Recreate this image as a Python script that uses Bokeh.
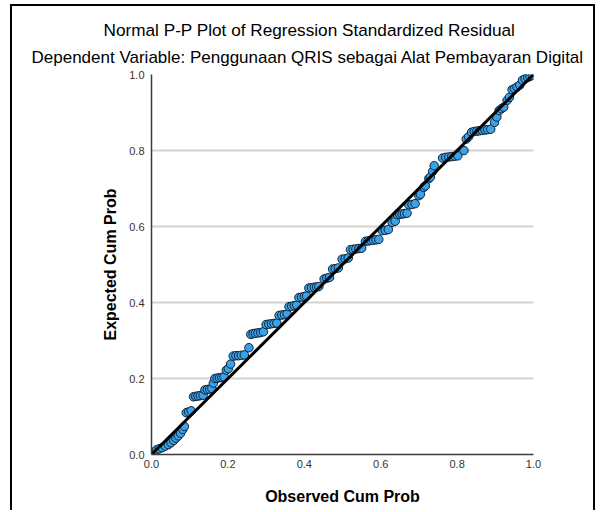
from bokeh.plotting import figure
from bokeh.models import Title, Range1d, FixedTicker, ColumnDataSource, CustomJSTickFormatter
from bokeh.embed import file_html
from bokeh.resources import INLINE

# Observed cumulative probability (x) and expected cumulative probability (y)
observed = [
    0.006, 0.013, 0.020, 0.028, 0.036, 0.044, 0.051, 0.058, 0.064, 0.070,
    0.076, 0.082, 0.086, 0.091, 0.097, 0.104, 0.110, 0.116, 0.122, 0.128,
    0.135, 0.140, 0.146, 0.152, 0.158, 0.162, 0.166, 0.172, 0.178, 0.184,
    0.190, 0.196, 0.201, 0.207, 0.214, 0.221, 0.228, 0.235, 0.243, 0.255,
    0.260, 0.266, 0.272, 0.279, 0.286, 0.293, 0.300, 0.307, 0.314, 0.321,
    0.328, 0.334, 0.341, 0.348, 0.355, 0.360, 0.367, 0.374, 0.380, 0.386,
    0.393, 0.400, 0.406, 0.412, 0.419, 0.426, 0.432, 0.438, 0.452, 0.459,
    0.466, 0.474, 0.481, 0.489, 0.499, 0.507, 0.515, 0.521, 0.528, 0.535,
    0.543, 0.550, 0.560, 0.567, 0.574, 0.581, 0.588, 0.595, 0.604, 0.612,
    0.620, 0.630, 0.638, 0.644, 0.650, 0.656, 0.662, 0.669, 0.674, 0.682,
    0.690, 0.700, 0.704, 0.713, 0.717, 0.726, 0.730, 0.736, 0.740, 0.762,
    0.770, 0.778, 0.786, 0.794, 0.802, 0.818, 0.824, 0.830, 0.838, 0.845,
    0.852, 0.859, 0.866, 0.873, 0.880, 0.888, 0.898, 0.904, 0.910, 0.916,
    0.922, 0.931, 0.937, 0.944, 0.950, 0.957, 0.964, 0.971, 0.978, 0.985,
    0.991, 0.997,
]
expected = [
    0.006, 0.012, 0.015, 0.018, 0.022, 0.026, 0.031, 0.037, 0.043, 0.049,
    0.056, 0.066, 0.074, 0.110, 0.112, 0.115, 0.152, 0.153, 0.154, 0.155,
    0.156, 0.170, 0.171, 0.172, 0.174, 0.188, 0.200, 0.201, 0.202, 0.203,
    0.204, 0.222, 0.226, 0.238, 0.259, 0.260, 0.260, 0.261, 0.262, 0.281,
    0.316, 0.318, 0.319, 0.320, 0.321, 0.323, 0.342, 0.343, 0.344, 0.345,
    0.346, 0.366, 0.367, 0.368, 0.370, 0.389, 0.390, 0.392, 0.393, 0.413,
    0.414, 0.416, 0.417, 0.438, 0.439, 0.440, 0.441, 0.442, 0.462, 0.464,
    0.466, 0.488, 0.489, 0.491, 0.514, 0.515, 0.517, 0.539, 0.540, 0.541,
    0.542, 0.543, 0.561, 0.562, 0.563, 0.564, 0.565, 0.566, 0.589, 0.590,
    0.592, 0.611, 0.614, 0.631, 0.632, 0.633, 0.634, 0.635, 0.657, 0.658,
    0.660, 0.681, 0.685, 0.703, 0.707, 0.726, 0.730, 0.745, 0.760, 0.780,
    0.782, 0.783, 0.784, 0.785, 0.786, 0.800, 0.830, 0.836, 0.848, 0.850,
    0.851, 0.852, 0.853, 0.854, 0.855, 0.856, 0.874, 0.888, 0.905, 0.910,
    0.914, 0.932, 0.940, 0.960, 0.963, 0.967, 0.972, 0.985, 0.989, 0.992,
    0.995, 0.998,
]
ref_line = [0.0, 1.0]
tick_values = [0.0, 0.2, 0.4, 0.6, 0.8, 1.0]

title_text = "Normal P-P Plot of Regression Standardized Residual"
subtitle_text = "Dependent Variable: Penggunaan QRIS sebagai Alat Pembayaran Digital"
x_label = "Observed Cum Prob"
y_label = "Expected Cum Prob"

FONT = "Liberation Sans"

p = figure(
    width=585, height=506,
    x_range=Range1d(0, 1), y_range=Range1d(0, 1),
    output_backend="svg", toolbar_location=None,
    min_border_left=139, min_border_right=64,
    min_border_top=68, min_border_bottom=58,
)
p.styles = {
    "margin-left": "10px", "margin-top": "4px",
    "border-left": "2px solid #000000",
    "border-top": "2px solid #000000",
    "border-right": "2px solid #000000",
}
p.outline_line_color = None
p.background_fill_color = "white"
p.border_fill_color = "white"

sub = Title(text=subtitle_text, align="left", offset=-120, standoff=16,
            text_font=FONT, text_font_size="17px", text_font_style="normal",
            text_color="#000000")
main = Title(text=title_text, align="left", offset=-48, standoff=-4,
             text_font=FONT, text_font_size="17.2px", text_font_style="normal",
             text_color="#000000")
p.add_layout(sub, "above")
p.add_layout(main, "above")

ticker = FixedTicker(ticks=tick_values)
fmt = CustomJSTickFormatter(code="return tick.toFixed(1);")
for ax in (p.xaxis[0], p.yaxis[0]):
    ax.ticker = ticker
    ax.formatter = fmt
    ax.major_tick_out = 0
    ax.major_tick_in = 0
    ax.minor_tick_out = 0
    ax.minor_tick_in = 0
    ax.axis_line_color = "#3a3a3a"
    ax.axis_line_width = 1.5
    ax.major_label_text_font = FONT
    ax.major_label_text_font_size = "11px"
    ax.major_label_text_color = "#333333"
    ax.axis_label_text_font = FONT
    ax.axis_label_text_font_size = "16px"
    ax.axis_label_text_font_style = "bold"
    ax.axis_label_text_color = "#000000"

p.xaxis[0].axis_label = x_label
p.yaxis[0].axis_label = y_label
p.xaxis[0].major_label_standoff = 5
p.yaxis[0].major_label_standoff = 7
p.xaxis[0].axis_label_standoff = 17
p.yaxis[0].axis_label_standoff = 7

p.xgrid.visible = False
p.ygrid[0].ticker = ticker
p.ygrid.grid_line_color = "#d2d2d2"
p.ygrid.grid_line_width = 2

src = ColumnDataSource(data=dict(x=observed, y=expected))
p.scatter("x", "y", source=src, size=8.5, marker="circle",
          fill_color="#3aa2ea", line_color="#0f2233", line_width=1)
p.line(ref_line, ref_line, line_color="#000000", line_width=3)

open("out.html", "w").write(file_html(p, INLINE))
